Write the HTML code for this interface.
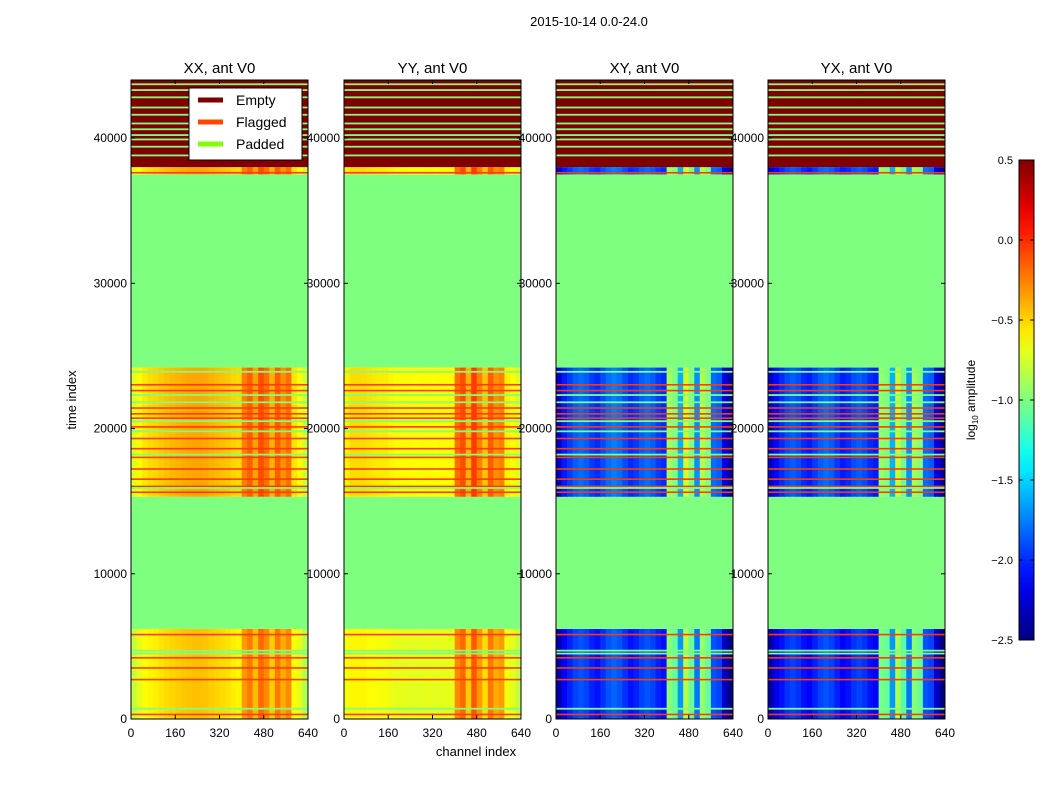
<!DOCTYPE html>
<html><head><meta charset="utf-8"><style>
body{margin:0;background:#fff;}
svg{display:block;font-family:"Liberation Sans",sans-serif;}
</style></head><body>
<svg id="c" width="1050" height="800" xmlns="http://www.w3.org/2000/svg">
<text x="589" y="26" font-size="13" text-anchor="middle">2015-10-14 0.0-24.0</text>
<text x="76" y="400" font-size="13" text-anchor="middle" transform="rotate(-90 76 400)">time index</text>
<text x="476" y="756" font-size="13" text-anchor="middle">channel index</text>
</svg>
<script>
const panelTitles=["XX, ant V0","YY, ant V0","XY, ant V0","YX, ant V0"];
const panelX=[131,344,556,768];
const segStarts=[0,6200,15300,24200,37500,38000];
const segEnds=[6200,15300,24200,37500,38000,44000];
const segTypes=["data","pad","data","pad","data","empty"];
const segOffset=[-0.08,0,0,0,0,0];
const profXX=[-0.72,-0.62,-0.56,-0.52,-0.5,-0.47,-0.44,-0.42,-0.4,-0.38,-0.37,-0.36,-0.36,-0.37,-0.4,-0.42,-0.44,-0.46,-0.5,-0.52,-0.25,-0.15,-0.35,-0.1,-0.2,-0.4,-0.15,-0.3,-0.2,-0.55,-0.62,-0.78];
const profYY=[-0.58,-0.52,-0.52,-0.52,-0.54,-0.56,-0.57,-0.57,-0.6,-0.62,-0.62,-0.62,-0.63,-0.63,-0.62,-0.62,-0.63,-0.62,-0.62,-0.62,-0.2,-0.1,-0.4,-0.05,-0.25,-0.45,-0.15,-0.3,-0.25,-0.58,-0.62,-0.72];
const profXY=[-2.3,-2.05,-1.95,-1.85,-1.8,-1.85,-1.95,-2.0,-1.9,-1.8,-1.75,-1.8,-1.9,-2.0,-1.95,-1.85,-1.8,-1.85,-1.95,-2.0,-0.9,-1.0,-1.6,-0.75,-1.0,-1.7,-0.85,-1.0,-1.8,-1.85,-2.2,-2.4];
const profYX=[-2.3,-2.1,-2.0,-1.9,-1.85,-1.9,-2.0,-2.05,-1.95,-1.85,-1.8,-1.85,-1.95,-2.05,-2.0,-1.9,-1.85,-1.9,-2.0,-2.05,-0.95,-1.0,-1.6,-0.8,-1.05,-1.7,-0.9,-1.0,-1.8,-1.85,-2.2,-2.4];
const flagTimes=[300,2700,3500,4200,5800,15600,16000,16500,17200,18000,18600,19300,20100,20700,21000,21400,22600,23000,37600];
const padLineTimes=[700,4500,4700,15900,18200,19800,20500,21800,22300,23900,38800,39400,39900,40200,40600,41000,41600,42100,42800,43300,43700];
const xTicks=[0,160,320,480,640];
const yTicks=[0,10000,20000,30000,40000];
const cbTicks=[0.5,0.0,-0.5,-1.0,-1.5,-2.0,-2.5];
const profs=[profXX,profYY,profXY,profYX];

const NS="http://www.w3.org/2000/svg";
const svg=document.getElementById("c");
const W=177,TOP=80,BOT=719,YMAX=44000,XMAX=640;
function ys(t){return BOT-(t/YMAX)*(BOT-TOP);}
function xs(px,ch){return px+ch/XMAX*W;}
function jet(v){
 let x=(v+2.5)/3;x=Math.max(0,Math.min(1,x));
 const f=(a)=>Math.max(0,Math.min(1,1.5-Math.abs(4*x-a)));
 const r=f(3),g=f(2),b=f(1);
 return `rgb(${Math.round(r*255)},${Math.round(g*255)},${Math.round(b*255)})`;
}
function mk(tag,attrs,parent){const e=document.createElementNS(NS,tag);for(const k in attrs)e.setAttribute(k,attrs[k]);(parent||svg).appendChild(e);return e;}
const PAD="#7fff7f",EMPTY="#800000",FLAG="#ff3b00";

panelX.forEach((px,p)=>{
 const g=mk("g",{});
 
 
 segStarts.forEach((s,i)=>{
  const y1=ys(segEnds[i]),y0=ys(s);
  if(segTypes[i]==="data"){
   profs[p].forEach((v,b)=>{
    const r=mk("rect",{x:xs(px,b*20),y:y1,width:W/32+0.5,height:y0-y1,fill:jet(v+segOffset[i])},g);
    
    
   });
  } else {
   const r=mk("rect",{x:px,y:y1,width:W,height:y0-y1,fill:segTypes[i]==="pad"?PAD:EMPTY},g);
   
   
  }
 });
 flagTimes.forEach(t=>{
  const l=mk("rect",{x:px,y:ys(t)-1,width:W,height:1.6,fill:FLAG},g);
  
  
 });
 padLineTimes.forEach(t=>{
  const l=mk("rect",{x:px,y:ys(t)-1,width:W,height:1.8,fill:PAD},g);
  
  
 });
 const fr=mk("rect",{x:px,y:TOP,width:W,height:BOT-TOP,fill:"none",stroke:"#000","stroke-width":1},g);
 
 
 const tt=mk("text",{x:px+W/2,y:73,"font-size":15,"text-anchor":"middle"},g);
 tt.textContent=panelTitles[p];
 
 
 xTicks.forEach(v=>{
  const x=xs(px,v);
  mk("line",{x1:x,x2:x,y1:BOT,y2:BOT-4,stroke:"#000"},g);
  mk("line",{x1:x,x2:x,y1:TOP,y2:TOP+4,stroke:"#000"},g);
  const t=mk("text",{x:x,y:737,"font-size":12,"text-anchor":"middle"},g);
  t.textContent=v;
  
  
 });
 yTicks.forEach(v=>{
  const y=ys(v);
  mk("line",{x1:px,x2:px+4,y1:y,y2:y,stroke:"#000"},g);
  mk("line",{x1:px+W,x2:px+W-4,y1:y,y2:y,stroke:"#000"},g);
  const t=mk("text",{x:px-4,y:y+4,"font-size":12,"text-anchor":"end"},g);
  t.textContent=v;
  
  
 });
});

const lg=mk("g",{});


mk("rect",{x:189,y:88,width:113,height:72,fill:"#fff",stroke:"#000"},lg);
const legNames=["Empty","Flagged","Padded"],legCols=[EMPTY,"#ff4500","#7fff00"];
legNames.forEach((n,i)=>{
 const y=100+i*22;
 mk("rect",{x:198,y:y-2.5,width:25,height:5,fill:legCols[i]},lg);
 const t=mk("text",{x:236,y:y+5,"font-size":14},lg);
 t.textContent=n;
 
 
});

const cb=mk("g",{});


const defs=mk("defs",{});
const gr=mk("linearGradient",{id:"jg",x1:0,y1:1,x2:0,y2:0},defs);
for(let i=0;i<=20;i++){mk("stop",{offset:i/20,"stop-color":jet(-2.5+3*i/20)},gr);}
mk("rect",{x:1019,y:160,width:15,height:480,fill:"url(#jg)",stroke:"#000"},cb);
cbTicks.forEach(v=>{
 const y=160+(0.5-v)/3*480;
 mk("line",{x1:1030,x2:1034,y1:y,y2:y,stroke:"#000"},cb);
 mk("line",{x1:1019,x2:1023,y1:y,y2:y,stroke:"#000"},cb);
 const t=mk("text",{x:1013,y:y+4,"font-size":11,"text-anchor":"end"},cb);
 t.textContent=(v<0?"\u2212":"")+Math.abs(v).toFixed(1);
 
 
});
const cl=mk("text",{x:975,y:400,"font-size":12,"text-anchor":"middle",transform:"rotate(-90 975 400)"},cb);
cl.innerHTML='log<tspan font-size="8" dy="3">10</tspan><tspan dy="-3"> amplitude</tspan>';


</script>
</body></html>
